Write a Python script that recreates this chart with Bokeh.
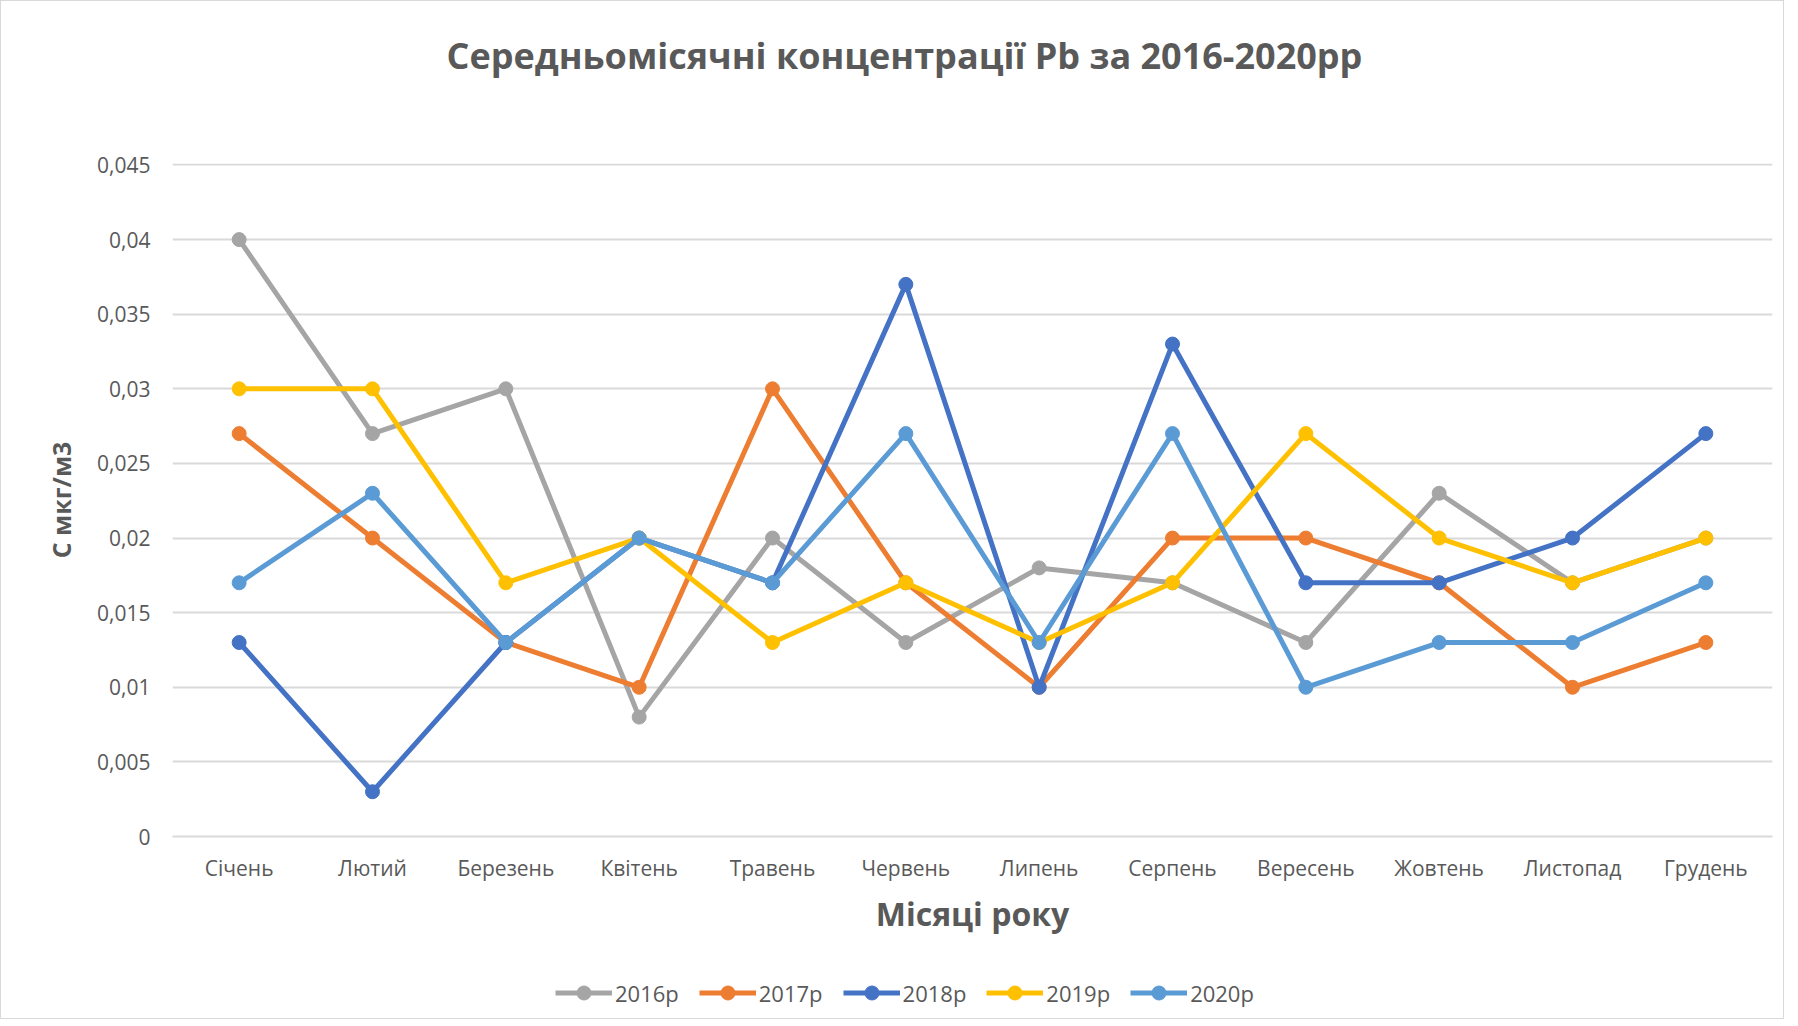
from bokeh.plotting import figure
from bokeh.models import FixedTicker, Legend, LegendItem, Range1d, FactorRange, Title
from bokeh.layouts import column
from bokeh.embed import file_html
from bokeh.resources import INLINE

months = ["Січень", "Лютий", "Березень", "Квітень", "Травень", "Червень",
          "Липень", "Серпень", "Вересень", "Жовтень", "Листопад", "Грудень"]

y2016 = [0.040, 0.027, 0.030, 0.008, 0.020, 0.013, 0.018, 0.017, 0.013, 0.023, 0.017, 0.020]
y2017 = [0.027, 0.020, 0.013, 0.010, 0.030, 0.017, 0.010, 0.020, 0.020, 0.017, 0.010, 0.013]
y2018 = [0.013, 0.003, 0.013, 0.020, 0.017, 0.037, 0.010, 0.033, 0.017, 0.017, 0.020, 0.027]
y2019 = [0.030, 0.030, 0.017, 0.020, 0.013, 0.017, 0.013, 0.017, 0.027, 0.020, 0.017, 0.020]
y2020 = [0.017, 0.023, 0.013, 0.020, 0.017, 0.027, 0.013, 0.027, 0.010, 0.013, 0.013, 0.017]

series_names = ["2016р", "2017р", "2018р", "2019р", "2020р"]
series_values = [y2016, y2017, y2018, y2019, y2020]
colors = ["#A5A5A5", "#ED7D31", "#4472C4", "#FFC000", "#5B9BD5"]

y_ticks = [0, 0.005, 0.01, 0.015, 0.02, 0.025, 0.03, 0.035, 0.04, 0.045]
y_tick_labels = ["0", "0,005", "0,01", "0,015", "0,02", "0,025", "0,03", "0,035", "0,04", "0,045"]

title_text = "Середньомісячні концентрації Pb за 2016-2020рр"
x_title = "Місяці року"
y_title = "С мкг/м3"

FONT = "Open Sans"
TXT = "#595959"

p = figure(frame_width=1600, frame_height=673, x_range=FactorRange(*months),
           y_range=Range1d(0, 0.0451), output_backend="svg", toolbar_location=None,
           min_border_left=171, min_border_right=11, min_border_top=0, min_border_bottom=0)

p.title.text = title_text
p.title.align = "left"
p.title.offset = 274
p.title.text_font = FONT
p.title.text_font_size = "36px"
p.title.text_font_style = "bold"
p.title.text_color = TXT
p.title.standoff = 54

# blank spacer between title and frame
p.add_layout(Title(text=" ", text_font_size="10px", text_color="white", standoff=44), "above")

p.outline_line_color = None
p.background_fill_color = "white"
p.border_fill_color = "white"

p.xgrid.grid_line_color = None
p.ygrid.grid_line_color = "#d9d9d9"
p.ygrid.grid_line_width = 2

p.yaxis.ticker = FixedTicker(ticks=y_ticks)
p.yaxis.major_label_overrides = {t: l for t, l in zip(y_ticks, y_tick_labels)}
p.yaxis.axis_line_color = None
p.yaxis.major_tick_line_color = None
p.yaxis.minor_tick_line_color = None
p.yaxis.major_label_text_font = FONT
p.yaxis.major_label_text_font_size = "21px"
p.yaxis.major_label_text_color = TXT
p.yaxis.major_label_standoff = 16
p.yaxis.axis_label = y_title
p.yaxis.axis_label_text_font = FONT
p.yaxis.axis_label_text_font_size = "25px"
p.yaxis.axis_label_text_font_style = "bold"
p.yaxis.axis_label_text_color = TXT
p.yaxis.axis_label_standoff = 16

p.xaxis.axis_line_color = "#d9d9d9"
p.xaxis.axis_line_width = 2
p.xaxis.major_tick_line_color = None
p.xaxis.minor_tick_line_color = None
p.xaxis.major_label_text_font = FONT
p.xaxis.major_label_text_font_size = "21px"
p.xaxis.major_label_text_color = TXT
p.xaxis.major_label_standoff = 11
p.xaxis.axis_label = x_title
p.xaxis.axis_label_text_font = FONT
p.xaxis.axis_label_text_font_size = "32px"
p.xaxis.axis_label_text_font_style = "bold"
p.xaxis.axis_label_text_color = TXT
p.xaxis.axis_label_standoff = 7

for name, vals, c in zip(series_names, series_values, colors):
    p.line(months, vals, line_color=c, line_width=5)
    p.scatter(months, vals, size=14, fill_color=c, line_color=c)

# legend strip below the chart (series drawn outside its visible y range,
# only their legend glyphs show)
lg = figure(width=1782, height=81, output_backend="svg", toolbar_location=None,
            x_axis_type=None, y_axis_type=None, min_border=0,
            x_range=FactorRange(*months), y_range=Range1d(1, 2))
lg.outline_line_color = None
lg.xgrid.grid_line_color = None
lg.ygrid.grid_line_color = None
lg.background_fill_color = "white"
lg.border_fill_color = "white"

items = []
for name, vals, c in zip(series_names, series_values, colors):
    r1 = lg.line(months, vals, line_color=c, line_width=5)
    r2 = lg.scatter(months, vals, size=14, fill_color=c, line_color=c)
    items.append(LegendItem(label=name, renderers=[r1, r2]))

legend = Legend(items=items, orientation="horizontal", location=(383, 8),
                label_text_font=FONT, label_text_font_size="22px", label_text_color=TXT,
                border_line_color=None, background_fill_alpha=0,
                glyph_width=57, glyph_height=35, spacing=20, label_standoff=3,
                margin=0, padding=0)
lg.add_layout(legend, "center")

layout = column(p, lg, spacing=0)
layout.styles = {"border": "1px solid #d9d9d9"}

open("out.html", "w").write(file_html(layout, INLINE))
